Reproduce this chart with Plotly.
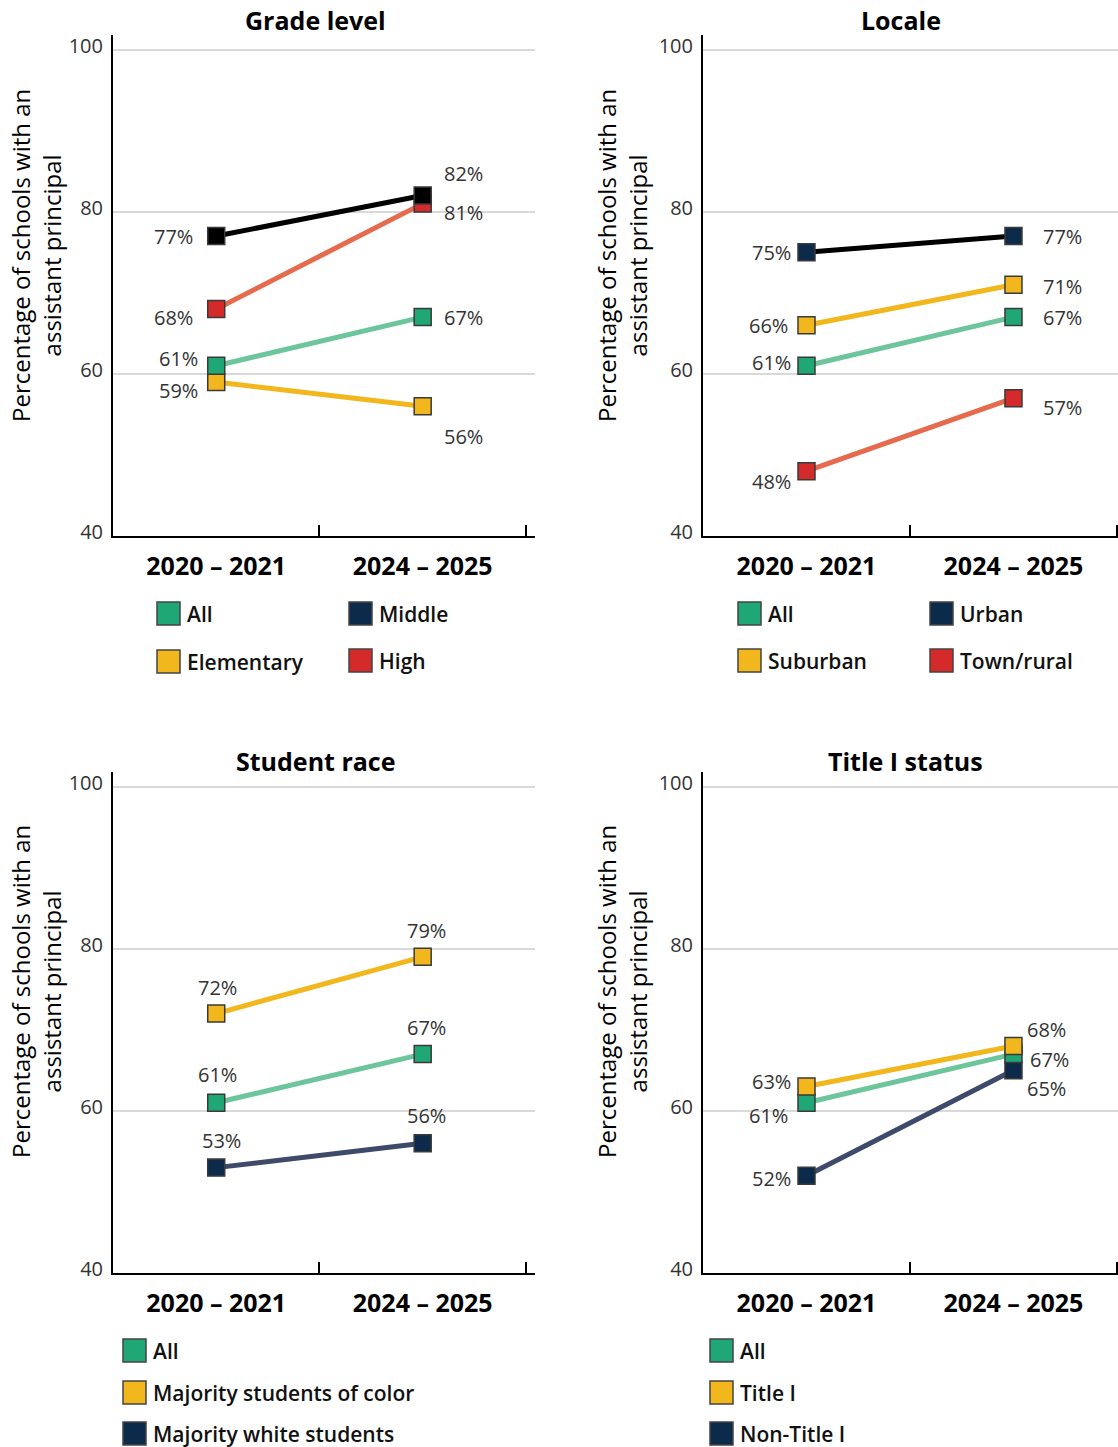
import plotly.graph_objects as go

W, H = 1118, 1447
FONT = "Open Sans"

years = ["2020 – 2021", "2024 – 2025"]

# Grade level
grade_all = [61, 67]
grade_elementary = [59, 56]
grade_middle = [77, 82]
grade_high = [68, 81]

# Locale
locale_all = [61, 67]
locale_urban = [75, 77]
locale_suburban = [66, 71]
locale_town_rural = [48, 57]

# Student race
race_all = [61, 67]
race_majority_color = [72, 79]
race_majority_white = [53, 56]

# Title I status
title_all = [61, 67]
title_one = [63, 68]
title_non = [52, 65]

panel_titles = ["Grade level", "Locale", "Student race", "Title I status"]
y_ticks = [40, 60, 80, 100]

# ---- styling -------------------------------------------------------------
GREEN_M, GREEN_L = "#1fa776", "#6cc59b"
YELLOW = "#f2b71d"
RED_M, RED_L = "#d42a2a", "#e66a4e"
NAVY = "#0c2a4a"
SLATE = "#3e4a6a"
BLACK = "#000000"

# (name, values, line colour, marker colour, label offsets per point [(dx, dy), ...])
panels = [
    [
        ("Elementary", grade_elementary, YELLOW, YELLOW, [(-38, -9), (41, -30)]),
        ("All", grade_all, GREEN_L, GREEN_M, [(-38, 7), (41, 0)]),
        ("High", grade_high, RED_L, RED_M, [(-43, -8), (41, -9)]),
        ("Middle", grade_middle, BLACK, BLACK, [(-43, 0), (41, 22)]),
    ],
    [
        ("Town/rural", locale_town_rural, RED_L, RED_M, [(-35, -10), (49, -9)]),
        ("All", locale_all, GREEN_L, GREEN_M, [(-35, 3), (49, 0)]),
        ("Suburban", locale_suburban, YELLOW, YELLOW, [(-38, 0), (49, -2)]),
        ("Urban", locale_urban, BLACK, NAVY, [(-35, 0), (49, 0)]),
    ],
    [
        ("Majority white students", race_majority_white, SLATE, NAVY, [(5, 27), (4, 28)]),
        ("All", race_all, GREEN_L, GREEN_M, [(1, 28), (4, 27)]),
        ("Majority students of color", race_majority_color, YELLOW, YELLOW, [(1, 26), (4, 26)]),
    ],
    [
        ("Non-Title I", title_non, SLATE, NAVY, [(-35, -3), (33, -18)]),
        ("All", title_all, GREEN_L, GREEN_M, [(-38, -13), (36, -5)]),
        ("Title I", title_one, YELLOW, YELLOW, [(-35, 5), (33, 17)]),
    ],
]

# legend entries: (label, swatch colour, left px, top px)
legends = [
    [("All", GREEN_M, 157, 602), ("Middle", NAVY, 349, 602),
     ("Elementary", YELLOW, 157, 650), ("High", RED_M, 349, 649)],
    [("All", GREEN_M, 738, 602), ("Urban", NAVY, 930, 602),
     ("Suburban", YELLOW, 738, 649), ("Town/rural", RED_M, 930, 649)],
    [("All", GREEN_M, 123, 1339), ("Majority students of color", YELLOW, 123, 1381),
     ("Majority white students", NAVY, 123, 1422)],
    [("All", GREEN_M, 710, 1339), ("Title I", YELLOW, 710, 1381),
     ("Non-Title I", NAVY, 710, 1422)],
]

# panel frames in pixels: (left, right, top, bottom)
frames = [(113, 535, 35, 536), (703, 1118, 35, 536),
          (113, 535, 772, 1273), (703, 1118, 772, 1273)]
x_ranges = [[-0.5, 1.544], [-0.5, 1.505], [-0.5, 1.544], [-0.5, 1.505]]
title_pos = [(315, 20), (901, 20), (316, 761), (905, 761)]
ytitle_pos = [(36, 256), (622, 256), (36, 992), (622, 992)]


def px_x(p):
    return p / W


def px_y(p):
    return 1 - p / H


fig = go.Figure()
layout = dict(
    width=W, height=H, autosize=False,
    margin=dict(l=0, r=0, t=0, b=0, pad=0),
    paper_bgcolor="white", plot_bgcolor="white",
    showlegend=False,
    font=dict(family=FONT, color="#333333"),
)
annotations = []
shapes = []

for i, series in enumerate(panels):
    k = "" if i == 0 else str(i + 1)
    xa, ya = "x" + k, "y" + k
    left, right, top, bottom = frames[i]

    layout["xaxis" + k] = dict(
        domain=[px_x(left), px_x(right)], anchor=ya,
        type="category", categoryorder="array", categoryarray=years,
        range=x_ranges[i], tickson="boundaries",
        ticks="inside", ticklen=11, tickwidth=2, tickcolor=BLACK,
        showline=True, linewidth=2, linecolor=BLACK,
        showgrid=False, zeroline=False, fixedrange=True, automargin=False,
        tickfont=dict(family=FONT, size=25, color=BLACK, weight="bold"),
        ticklabelstandoff=7,
    )
    layout["yaxis" + k] = dict(
        domain=[px_y(bottom), px_y(top)], anchor=xa,
        range=[40, 101.8], tickvals=y_ticks,
        ticks="", showline=True, linewidth=2, linecolor=BLACK,
        showgrid=True, gridcolor="#d9d9d9", gridwidth=2,
        zeroline=False, fixedrange=True, automargin=False,
        tickfont=dict(family=FONT, size=20, color="#333333"),
        ticklabelstandoff=4, ticklabelshift=-4,
    )

    for name, vals, lcol, mcol, offs in series:
        fig.add_trace(go.Scatter(
            x=years, y=vals, name=name, mode="lines+markers",
            xaxis=xa, yaxis=ya,
            line=dict(color=lcol, width=5),
            marker=dict(symbol="square", size=17, color=mcol,
                        line=dict(color="#3a3a3a", width=1.5)),
            hovertemplate=name + ": %{y}%<extra></extra>",
            cliponaxis=False,
        ))
        for j, v in enumerate(vals):
            dx, dy = offs[j]
            annotations.append(dict(
                x=years[j], y=v, xref=xa, yref=ya,
                xanchor="center", yanchor="middle",
                text=f"{v}%", showarrow=False,
                xshift=dx, yshift=dy,
                font=dict(family=FONT, size=20, color="#333333"),
            ))

    tx, ty = title_pos[i]
    annotations.append(dict(
        x=px_x(tx), y=px_y(ty), xref="paper", yref="paper",
        xanchor="center", yanchor="middle",
        text=f"<b>{panel_titles[i]}</b>", showarrow=False,
        font=dict(family=FONT, size=25, color=BLACK),
    ))

    yx, yy = ytitle_pos[i]
    annotations.append(dict(
        x=px_x(yx), y=px_y(yy), xref="paper", yref="paper",
        xanchor="center", yanchor="middle",
        text="Percentage of schools with an<br>assistant principal",
        showarrow=False, textangle=-90,
        font=dict(family=FONT, size=24, color=BLACK),
    ))

    for label, col, lx, ly in legends[i]:
        shapes.append(dict(
            type="rect", xref="paper", yref="paper",
            x0=px_x(lx), x1=px_x(lx + 23), y0=px_y(ly + 23), y1=px_y(ly),
            fillcolor=col, line=dict(color="#444444", width=1.5),
        ))
        annotations.append(dict(
            x=px_x(lx + 28), y=px_y(ly + 12), xref="paper", yref="paper",
            xanchor="left", yanchor="middle",
            text=label, showarrow=False,
            font=dict(family=FONT, size=21, color="#111111", weight=600),
        ))

layout["annotations"] = annotations
layout["shapes"] = shapes
fig.update_layout(**layout)

# page body without the default browser margin
fig.write_html("out.html", post_script="document.body.style.margin = '0';")
